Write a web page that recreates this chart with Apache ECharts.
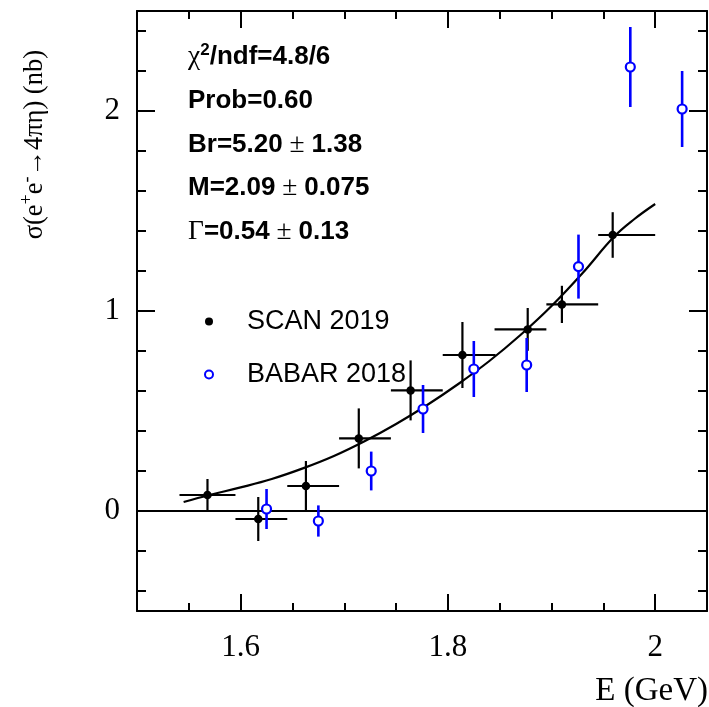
<!DOCTYPE html>
<html>
<head>
<meta charset="utf-8">
<script src="https://cdn.jsdelivr.net/npm/echarts@6/dist/echarts.min.js"></script>
<style>
html,body{margin:0;padding:0;background:#fff;}
#chart{width:709px;height:707px;}
</style>
</head>
<body>
<div id="chart"></div>
<script>
// ---- data ----
const scanE      = [1.568, 1.617, 1.663, 1.714, 1.764, 1.814, 1.877, 1.910, 1.959];
const scanSigma  = [0.08, -0.04, 0.125, 0.363, 0.603, 0.78, 0.908, 1.033, 1.38];
const scanErr    = [0.08, 0.11, 0.125, 0.15, 0.15, 0.165, 0.107, 0.093, 0.114];
const scanELow   = [1.541, 1.595, 1.645, 1.695, 1.745, 1.795, 1.845, 1.895, 1.945];
const scanEHigh  = [1.595, 1.645, 1.695, 1.745, 1.795, 1.846, 1.895, 1.945, 2.0];

const babarE     = [1.625, 1.675, 1.726, 1.776, 1.825, 1.876, 1.926, 1.976, 2.026];
const babarSigma = [0.01, -0.05, 0.20, 0.51, 0.71, 0.73, 1.222, 2.22, 2.01];
const babarErr   = [0.10, 0.078, 0.097, 0.12, 0.14, 0.135, 0.16, 0.20, 0.19];

const fitE       = [1.545, 1.57, 1.60, 1.63, 1.66, 1.69, 1.72, 1.75, 1.78, 1.81, 1.84, 1.87, 1.90, 1.93, 1.96, 1.98, 2.0];
const fitSigma   = [0.045, 0.08, 0.118, 0.16, 0.213, 0.275, 0.35, 0.435, 0.53, 0.635, 0.75, 0.88, 1.025, 1.19, 1.37, 1.46, 1.535];

const xMajorTicks = [1.6, 1.8, 2.0];
const xMinorTicks = [1.55, 1.6, 1.65, 1.7, 1.75, 1.8, 1.85, 1.9, 1.95, 2.0];
const yMajorTicks = [0, 1, 2];
const yMinorTicks = [-0.4, -0.2, 0, 0.2, 0.4, 0.6, 0.8, 1.0, 1.2, 1.4, 1.6, 1.8, 2.0, 2.2, 2.4];

const fitLines = [
  '{g|χ}{sup|2}{b|/ndf=4.8/6}',
  '{b|Prob=0.60}',
  '{b|Br=5.20}{g| ± }{b|1.38}',
  '{b|M=2.09}{g| ± }{b|0.075}',
  '{g|Γ}{b|=0.54}{g| ± }{b|0.13}'
];
const legendNames = ['SCAN 2019', 'BABAR 2018'];
const xTitle = 'E (GeV)';

// ---- chart ----
const X_MIN = 1.5, X_MAX = 2.05, Y_MIN = -0.5, Y_MAX = 2.5;
const BLUE = '#0000ff';

function xAxisDef(pos, ticks, len, withLabel, withLine) {
  return {
    type: 'value', position: pos, min: X_MIN, max: X_MAX, offset: 0,
    axisLine: {show: withLine, onZero: false, lineStyle: {color: '#000', width: 2}},
    axisTick: {show: true, inside: true, length: len, customValues: ticks, lineStyle: {color: '#000', width: 2}},
    axisLabel: withLabel ? {show: true, customValues: xMajorTicks, margin: 21,
      fontFamily: 'Liberation Serif', fontSize: 31, color: '#000'} : {show: false},
    splitLine: {show: false}
  };
}
function yAxisDef(pos, ticks, len, withLabel, withLine) {
  return {
    type: 'value', position: pos, min: Y_MIN, max: Y_MAX, offset: 0,
    axisLine: {show: withLine, onZero: false, lineStyle: {color: '#000', width: 2}},
    axisTick: {show: true, inside: true, length: len, customValues: ticks, lineStyle: {color: '#000', width: 2}},
    axisLabel: withLabel ? {show: true, customValues: yMajorTicks, margin: 17,
      fontFamily: 'Liberation Serif', fontSize: 31, color: '#000'} : {show: false},
    splitLine: {show: false}
  };
}

function errRender(color, width, withH) {
  return function (params, api) {
    const x = api.value(0), y = api.value(1), e = api.value(2);
    const p1 = api.coord([x, y - e]);
    const p2 = api.coord([x, y + e]);
    const children = [{
      type: 'line', shape: {x1: p1[0], y1: p1[1], x2: p2[0], y2: p2[1]},
      style: {stroke: color, lineWidth: width, opacity: 1}
    }];
    if (withH) {
      const h1 = api.coord([api.value(3), y]);
      const h2 = api.coord([api.value(4), y]);
      children.push({
        type: 'line', shape: {x1: h1[0], y1: h1[1], x2: h2[0], y2: h2[1]},
        style: {stroke: color, lineWidth: width, opacity: 1}
      });
    }
    return {type: 'group', children: children};
  };
}

const scanErrData = scanE.map((e, i) => [e, scanSigma[i], scanErr[i], scanELow[i], scanEHigh[i]]);
const babarErrData = babarE.map((e, i) => [e, babarSigma[i], babarErr[i]]);

const richFit = {
  b: {fontFamily: 'Liberation Sans', fontWeight: 'bold', fontSize: 26, color: '#000'},
  g: {fontFamily: 'Liberation Serif', fontWeight: 'normal', fontSize: 27.5, color: '#000'},
  sup: {fontFamily: 'Liberation Sans', fontWeight: 'bold', fontSize: 17, color: '#000', verticalAlign: 'top', lineHeight: 16}
};
const fitY0 = 57, fitDY = 43.7;

const graphics = fitLines.map((t, i) => ({
  type: 'text', x: 188, y: fitY0 + i * fitDY, z: 10,
  style: {text: t, rich: richFit, align: 'left', verticalAlign: 'middle', lineHeight: 30}
}));
graphics.push({
  type: 'text', x: 35, y: 50, rotation: Math.PI / 2, z: 10,
  style: {
    text: '{m|σ(e}{u|+}{m|e}{u|-}{m|→4πη) (nb)}',
    align: 'right', verticalAlign: 'middle',
    rich: {
      m: {fontFamily: 'Liberation Serif', fontSize: 26.5, color: '#000', lineHeight: 34},
      u: {fontFamily: 'Liberation Serif', fontSize: 18, color: '#000', lineHeight: 15, verticalAlign: 'top'}
    }
  }
});
graphics.push({
  type: 'text', x: 708, y: 691, z: 10,
  style: {text: xTitle, font: '33px "Liberation Serif"', fill: '#000', align: 'right', verticalAlign: 'middle'}
});

const option = {
  animation: false,
  backgroundColor: '#fff',
  grid: {left: 137, right: 2, top: 11, bottom: 96, containLabel: false},
  xAxis: [
    xAxisDef('bottom', xMajorTicks, 17, true, true),
    xAxisDef('bottom', xMinorTicks, 8, false, false),
    xAxisDef('top', xMajorTicks, 17, false, true),
    xAxisDef('top', xMinorTicks, 8, false, false)
  ],
  yAxis: [
    yAxisDef('left', yMajorTicks, 18, true, true),
    yAxisDef('left', yMinorTicks, 9, false, false),
    yAxisDef('right', yMajorTicks, 18, false, true),
    yAxisDef('right', yMinorTicks, 9, false, false)
  ],
  legend: {
    orient: 'vertical', left: 199, top: 303,
    itemWidth: 30, itemHeight: 8, itemGap: 26,
    textStyle: {fontFamily: 'Liberation Sans', fontSize: 27, color: '#000', lineHeight: 27, padding: [0, 0, 0, 18]},
    data: [
      {name: legendNames[0], icon: 'circle', itemStyle: {color: '#000', borderWidth: 0, opacity: 1}},
      {name: legendNames[1], icon: 'circle', itemStyle: {color: '#fff', borderColor: BLUE, borderWidth: 2, opacity: 1}}
    ]
  },
  graphic: graphics,
  series: [
    {
      name: 'fit', type: 'line', xAxisIndex: 0, yAxisIndex: 0,
      data: fitE.map((e, i) => [e, fitSigma[i]]),
      smooth: 0.4, showSymbol: false, symbol: 'none',
      lineStyle: {color: '#000', width: 2.2}, z: 4,
      markLine: {
        silent: true, symbol: 'none', label: {show: false},
        lineStyle: {color: '#000', width: 2, type: 'solid'},
        data: [{yAxis: 0}]
      }
    },
    {
      name: 'scanErr', type: 'custom', xAxisIndex: 0, yAxisIndex: 0,
      renderItem: errRender('#000', 2.2, true), data: scanErrData, z: 3, clip: true
    },
    {
      name: 'babarErr', type: 'custom', xAxisIndex: 0, yAxisIndex: 0,
      renderItem: errRender(BLUE, 2.6, false), data: babarErrData, z: 5, clip: true
    },
    {
      name: legendNames[0], type: 'scatter', xAxisIndex: 0, yAxisIndex: 0,
      data: scanE.map((e, i) => [e, scanSigma[i]]),
      symbol: 'circle', symbolSize: 8.5, itemStyle: {color: '#000', opacity: 1}, z: 6
    },
    {
      name: legendNames[1], type: 'scatter', xAxisIndex: 0, yAxisIndex: 0,
      data: babarE.map((e, i) => [e, babarSigma[i]]),
      symbol: 'circle', symbolSize: 9,
      itemStyle: {color: '#fff', borderColor: BLUE, borderWidth: 2.2, opacity: 1}, z: 7
    }
  ]
};

const chart = echarts.init(document.getElementById('chart'), null, {renderer: 'canvas'});
chart.setOption(option);
</script>
</body>
</html>
